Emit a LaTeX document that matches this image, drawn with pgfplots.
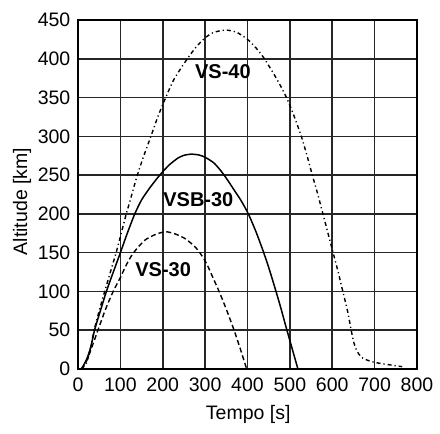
\documentclass[border=0pt]{standalone}
\usepackage{pgfplots}
\pgfplotsset{compat=1.18}
\usepackage{fontspec}
\setmainfont{Liberation Sans}
\begin{document}
\fontsize{19.5}{23}\selectfont
\begin{tikzpicture}
\begin{axis}[
  scale only axis, width=339pt, height=349pt,
  xmin=0, xmax=800, ymin=0, ymax=450,
  xtick={0,100,...,800}, ytick={0,50,...,450},
  grid=major,
  major grid style={black!85, line width=1.6pt},
  axis line style={black, line width=1.6pt},
  major tick length=0pt,
  /pgf/number format/assume math mode=true,
  ticklabel style={font=\fontsize{19.5}{23}\selectfont},
  xticklabel style={yshift=-2pt},
  yticklabel style={xshift=-1pt},
  xlabel={Tempo [s]}, ylabel={Altitude [km]},
  label style={font=\fontsize{19.5}{23}\selectfont},
  xlabel style={at={(axis description cs:0.502,-0.129)}, anchor=center},
  ylabel style={at={(axis description cs:-0.165,0.48)}, anchor=center},
  clip=false,
]
% VS-40
\addplot[black, line width=1.4pt, smooth, tension=0.4,
  dash pattern=on 4pt off 3pt on 1.2pt off 3pt] coordinates {
  (8,0) (20,8) (30,28) (38,50) (50,75) (63,100) (77,126) (90,150) (102,175)
  (114,200) (127,225) (140,250) (156,276) (172,300) (189,326) (207,350)
  (227,374) (258,400) (280,416) (300,427) (320,434) (349,437) (375,434)
  (400,425) (420,414) (440,400) (470,373) (492,350) (510,326) (527,300)
  (540,276) (553,250) (566,225) (578,200) (590,175) (602,150) (614,125)
  (625,100) (636,75) (644,52) (650,36) (656,26) (663,19) (672,14) (690,10)
  (710,7.5) (740,5) (765,3)};
% VSB-30
\addplot[black, line width=1.5pt, smooth, tension=0.4] coordinates {
  (8,0) (20,12) (30,28) (39,50) (50,70) (67,100) (80,120) (100,150) (117,176)
  (134,200) (150,218) (170,234) (193,250) (215,263) (236,272) (250,275.5)
  (267,277) (285,276) (300,273) (320,266) (335,257) (350,246) (367,232)
  (385,217) (402,200) (420,177) (437,152) (450,131) (464,106) (478,80)
  (491,54) (505,27) (519,0)};
% VS-30
\addplot[black, line width=1.4pt, smooth, tension=0.4,
  dash pattern=on 5pt off 3pt] coordinates {
  (8,0) (20,10) (30,24) (47,50) (65,77) (83,100) (100,118) (112,132) (125,145)
  (140,156) (160,167) (185,174) (208,177) (230,174) (250,169) (265,163)
  (282,154) (296,143) (306,133) (315,122) (333,100) (350,77) (367,52)
  (383,26) (398,0)};
\node[font=\bfseries\fontsize{20}{24}\selectfont] at (axis cs:342,383) {VS-40};
\node[font=\bfseries\fontsize{20}{24}\selectfont] at (axis cs:284,218) {VSB-30};
\node[font=\bfseries\fontsize{20}{24}\selectfont] at (axis cs:201,128) {VS-30};
\end{axis}
\pgfresetboundingbox
\path[use as bounding box] ([xshift=-78pt,yshift=-65pt]current axis.south west) rectangle ([xshift=23pt,yshift=20pt]current axis.north east);
\end{tikzpicture}
\end{document}
